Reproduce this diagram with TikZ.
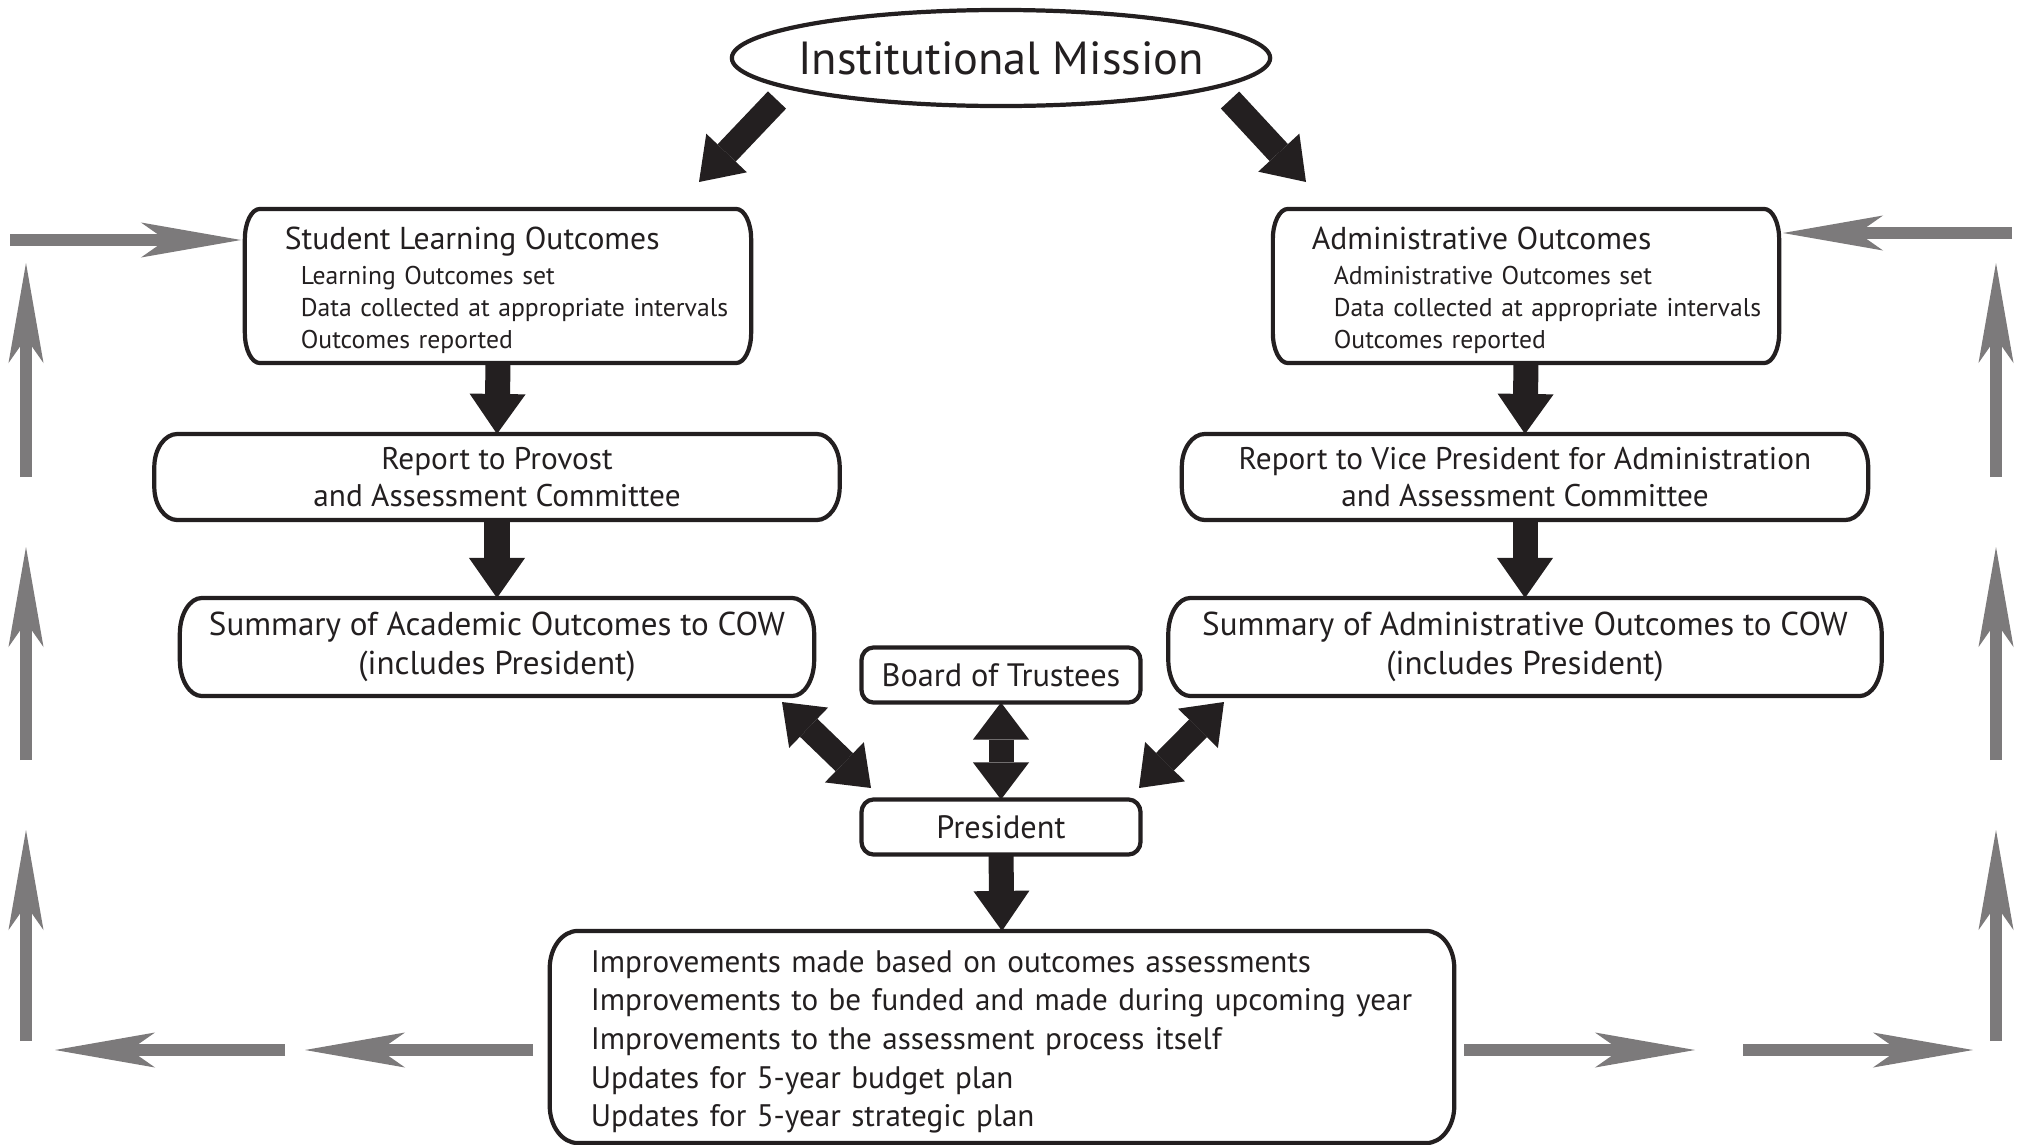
\documentclass[tikz,border=0pt]{standalone}
\usepackage{fontspec}
\setmainfont{PT Sans}
\usetikzlibrary{arrows.meta,shapes.geometric}
\definecolor{greyarrow}{RGB}{124,122,123}
\definecolor{ink}{RGB}{35,31,32}
\newcommand{\repsz}{\fontsize{8.9}{10.5}\selectfont}
\newcommand{\sumsz}{\fontsize{9.4}{11}\selectfont}
\newcommand{\smallboxsz}{\fontsize{9.2}{11}\selectfont}
\newcommand{\headsz}{\fontsize{9}{10.5}\selectfont}
\newcommand{\subsz}{\fontsize{7.3}{9.1}\selectfont}
\newcommand{\impsz}{\fontsize{8.85}{11}\selectfont}
\newcommand{\subline}[2]{\hspace*{#1}\mbox{#2}}
\tikzset{
  box/.style={inner ysep=0pt, outer sep=0pt, text=ink},
  boxline/.style={draw=ink, line width=1.2pt, line join=round},
  bigarrow/.style={draw=ink, line width=0.25cm, -{Triangle[length=0.4cm,width=0.56cm,line width=0pt]}},
  dblarrow/.style={draw=ink, line width=0.25cm, {Triangle[length=0.37cm,width=0.56cm,line width=0pt]}-{Triangle[length=0.37cm,width=0.56cm,line width=0pt]}},
  greyarr/.style={draw=greyarrow, line width=0.12cm, -{Stealth[length=1.0cm,width=0.35cm,inset=0.25cm,line width=0pt]}},
}
% outline of a box with elliptical corners: node, corner x radius, corner y radius
\newcommand{\boxoutline}[3]{%
  \draw[boxline]
    ([xshift=#2]#1.north west) -- ([xshift=-#2]#1.north east)
    .. controls ([xshift=-0.45*#2]#1.north east) and ([yshift=-0.45*#3]#1.north east) .. ([yshift=-#3]#1.north east)
    -- ([yshift=#3]#1.south east)
    .. controls ([yshift=0.45*#3]#1.south east) and ([xshift=-0.45*#2]#1.south east) .. ([xshift=-#2]#1.south east)
    -- ([xshift=#2]#1.south west)
    .. controls ([xshift=0.45*#2]#1.south west) and ([yshift=0.45*#3]#1.south west) .. ([yshift=#3]#1.south west)
    -- ([yshift=-#3]#1.north west)
    .. controls ([yshift=-0.45*#3]#1.north west) and ([xshift=0.45*#2]#1.north west) .. cycle;}
\begin{document}
\begin{tikzpicture}[x=0.01cm,y=-0.01cm]
\useasboundingbox (0,0) rectangle (2020,1145);

% nodes
\node[draw=ink, line width=1.2pt, ellipse, minimum width=5.38cm, minimum height=0.96cm, inner sep=0pt, text=ink, font=\fontsize{13.2}{15}\selectfont] (mission) at (1001,58) {\makebox[0pt]{Institutional Mission}};

\node[box, minimum width=5.06cm, minimum height=1.54cm, text width=4.56cm, inner xsep=0.25cm, align=left, font=\subsz] (slo) at (498,286)
  {\rule{0pt}{8.8pt}\subline{0.15cm}{\headsz Student Learning Outcomes}\\[0.7pt]
   \subline{0.31cm}{Learning Outcomes set}\\
   \subline{0.31cm}{Data collected at appropriate intervals}\\
   \subline{0.31cm}{Outcomes reported}};

\node[box, minimum width=5.06cm, minimum height=1.54cm, text width=4.56cm, inner xsep=0.25cm, align=left, font=\subsz] (ao) at (1526,286)
  {\rule{0pt}{8.8pt}\subline{0.14cm}{\headsz Administrative Outcomes}\\[0.7pt]
   \subline{0.36cm}{Administrative Outcomes set}\\
   \subline{0.36cm}{Data collected at appropriate intervals}\\
   \subline{0.36cm}{Outcomes reported}};

\node[box, minimum width=6.85cm, minimum height=0.86cm, align=center, font=\repsz] (rep1) at (497,477)
  {Report to Provost\\and Assessment Committee};
\node[box, minimum width=6.86cm, minimum height=0.86cm, align=center, font=\repsz] (rep2) at (1525,477)
  {Report to Vice President for Administration\\and Assessment Committee};

\node[box, minimum width=6.34cm, minimum height=0.98cm, align=center, font=\sumsz] (sum1) at (497,647)
  {Summary of Academic Outcomes to COW\\(includes President)};
\node[box, minimum width=7.13cm, minimum height=0.98cm, align=center, font=\sumsz] (sum2) at (1525,647)
  {Summary of Administrative Outcomes to COW\\(includes President)};

\node[box, minimum width=2.79cm, minimum height=0.55cm, font=\smallboxsz] (board) at (1001,675) {Board of Trustees};
\node[box, minimum width=2.79cm, minimum height=0.55cm, font=\smallboxsz] (pres) at (1001,827) {President};

\node[box, minimum width=9.04cm, minimum height=2.12cm, text width=8.22cm, inner xsep=0.41cm, align=left, font=\impsz] (impr) at (1002,1037)
  {\rule{0pt}{9pt}Improvements made based on outcomes assessments\\
   Improvements to be funded and made during upcoming year\\
   Improvements to the assessment process itself\\
   Updates for 5-year budget plan\\
   Updates for 5-year strategic plan};

% box outlines
\boxoutline{slo}{0.15cm}{0.3cm}
\boxoutline{ao}{0.15cm}{0.3cm}
\boxoutline{rep1}{0.23cm}{0.33cm}
\boxoutline{rep2}{0.23cm}{0.33cm}
\boxoutline{sum1}{0.22cm}{0.36cm}
\boxoutline{sum2}{0.22cm}{0.36cm}
\boxoutline{board}{0.12cm}{0.13cm}
\boxoutline{pres}{0.12cm}{0.13cm}
\boxoutline{impr}{0.28cm}{0.37cm}

% black arrows
\coordinate (m1s) at (777,100);
\coordinate (m1e) at (699,182);
\coordinate (m2s) at (1230,100);
\coordinate (m2e) at (1306,182);
\draw[bigarrow] (m1s) -- (m1e);
\draw[bigarrow] (m2s) -- (m2e);

\draw[bigarrow] (slo.south) -- (rep1.north);
\draw[bigarrow] (rep1.south) -- (sum1.north);
\draw[bigarrow] (ao.south) -- (rep2.north);
\draw[bigarrow] (rep2.south) -- (sum2.north);

\draw[dblarrow] (board.south) -- (pres.north);
\coordinate (d1a) at (782,702);
\coordinate (d1b) at (871,788);
\coordinate (d2a) at (1224,702);
\coordinate (d2b) at (1139,788);
\draw[dblarrow] (d1a) -- (d1b);
\draw[dblarrow] (d2a) -- (d2b);
\draw[bigarrow] (pres.south) -- (impr.north);

% grey loop arrows
\coordinate (tl0) at (10,240);
\coordinate (tl1) at (241,240);
\draw[greyarr] (tl0) -- (tl1);
\coordinate (tr0) at (2012,233);
\coordinate (tr1) at (1783,233);
\draw[greyarr] (tr0) -- (tr1);

\foreach \yb/\yt [count=\i] in {477/263, 760/547, 1041/830} {
  \coordinate (lv\i a) at (26,\yb);
  \coordinate (lv\i b) at (26,\yt);
  \draw[greyarr] (lv\i a) -- (lv\i b);
  \coordinate (rv\i a) at (1996,\yb);
  \coordinate (rv\i b) at (1996,\yt);
  \draw[greyarr] (rv\i a) -- (rv\i b);
}

\coordinate (bl1a) at (533,1050);
\coordinate (bl1b) at (305,1050);
\coordinate (bl2a) at (285,1050);
\coordinate (bl2b) at (55,1050);
\draw[greyarr] (bl1a) -- (bl1b);
\draw[greyarr] (bl2a) -- (bl2b);
\coordinate (br1a) at (1464,1050);
\coordinate (br1b) at (1695,1050);
\coordinate (br2a) at (1743,1050);
\coordinate (br2b) at (1973,1050);
\draw[greyarr] (br1a) -- (br1b);
\draw[greyarr] (br2a) -- (br2b);
\end{tikzpicture}
\end{document}
